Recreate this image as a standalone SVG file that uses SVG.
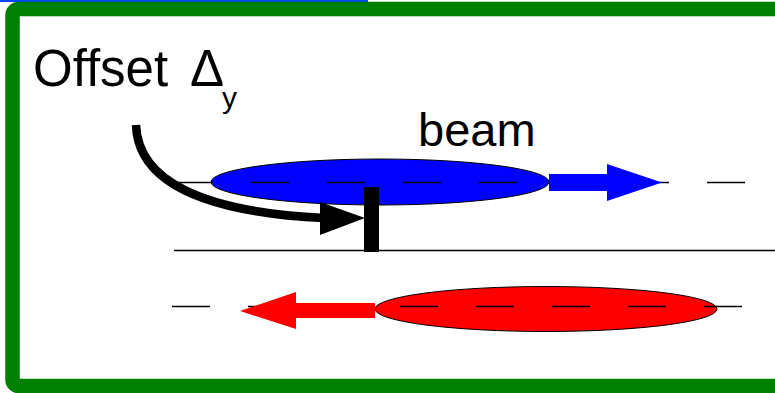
<svg xmlns="http://www.w3.org/2000/svg" width="775" height="393" viewBox="0 0 775 393">
<style>
.lbl{font-family:"Liberation Sans",Arial,sans-serif;fill:#000}
.axis{stroke:#000;stroke-width:1.5;fill:none}
.dash{stroke:#000;stroke-width:1.5;fill:none;stroke-dasharray:38 38}
.beam{stroke:#000;stroke-width:1}
</style>
<rect x="0" y="0" width="775" height="393" fill="#fff"/>
<rect x="0" y="0" width="368" height="2" fill="#0047ff"/>
<g id="frame">
<rect x="12.5" y="9" width="800" height="377" rx="6" fill="none" stroke="#008000" stroke-width="14.5"/>
</g>
<g id="label-offset">
<text class="lbl" x="33" y="86" font-size="51">Offset</text>
<text class="lbl" x="190" y="86" font-size="51">Δ</text>
<text class="lbl" x="222" y="108" font-size="30">y</text>
</g>
<g id="label-beam">
<text class="lbl" x="418" y="146" font-size="47">beam</text>
</g>
<g id="blue-beam">
<ellipse class="beam" cx="380" cy="182" rx="169" ry="23" fill="#0000ff"/>
<line class="dash" x1="175" y1="182.5" x2="750" y2="182.5"/>
<polygon points="549,174 607,174 607,164 662,182.5 607,201 607,191 549,191" fill="#0000ff"/>
</g>
<g id="red-beam">
<ellipse class="beam" cx="546" cy="309" rx="171" ry="22.5" fill="#ff0000"/>
<line class="dash" x1="172" y1="306.5" x2="748" y2="306.5"/>
<polygon points="375,303 296,303 296,292 240,311 296,329 296,318 375,318" fill="#ff0000"/>
</g>
<g id="center-line">
<line class="axis" x1="174" y1="250.5" x2="775" y2="250.5"/>
</g>
<g id="connectors">
<path d="M136,125 C138,180 200,212 324,218" fill="none" stroke="#000" stroke-width="8.5"/>
<polygon points="320,202 365,218 320,235" fill="#000"/>
</g>
<g id="offset-bar">
<rect x="364" y="187" width="15" height="65" fill="#000"/>
</g>
</svg>
